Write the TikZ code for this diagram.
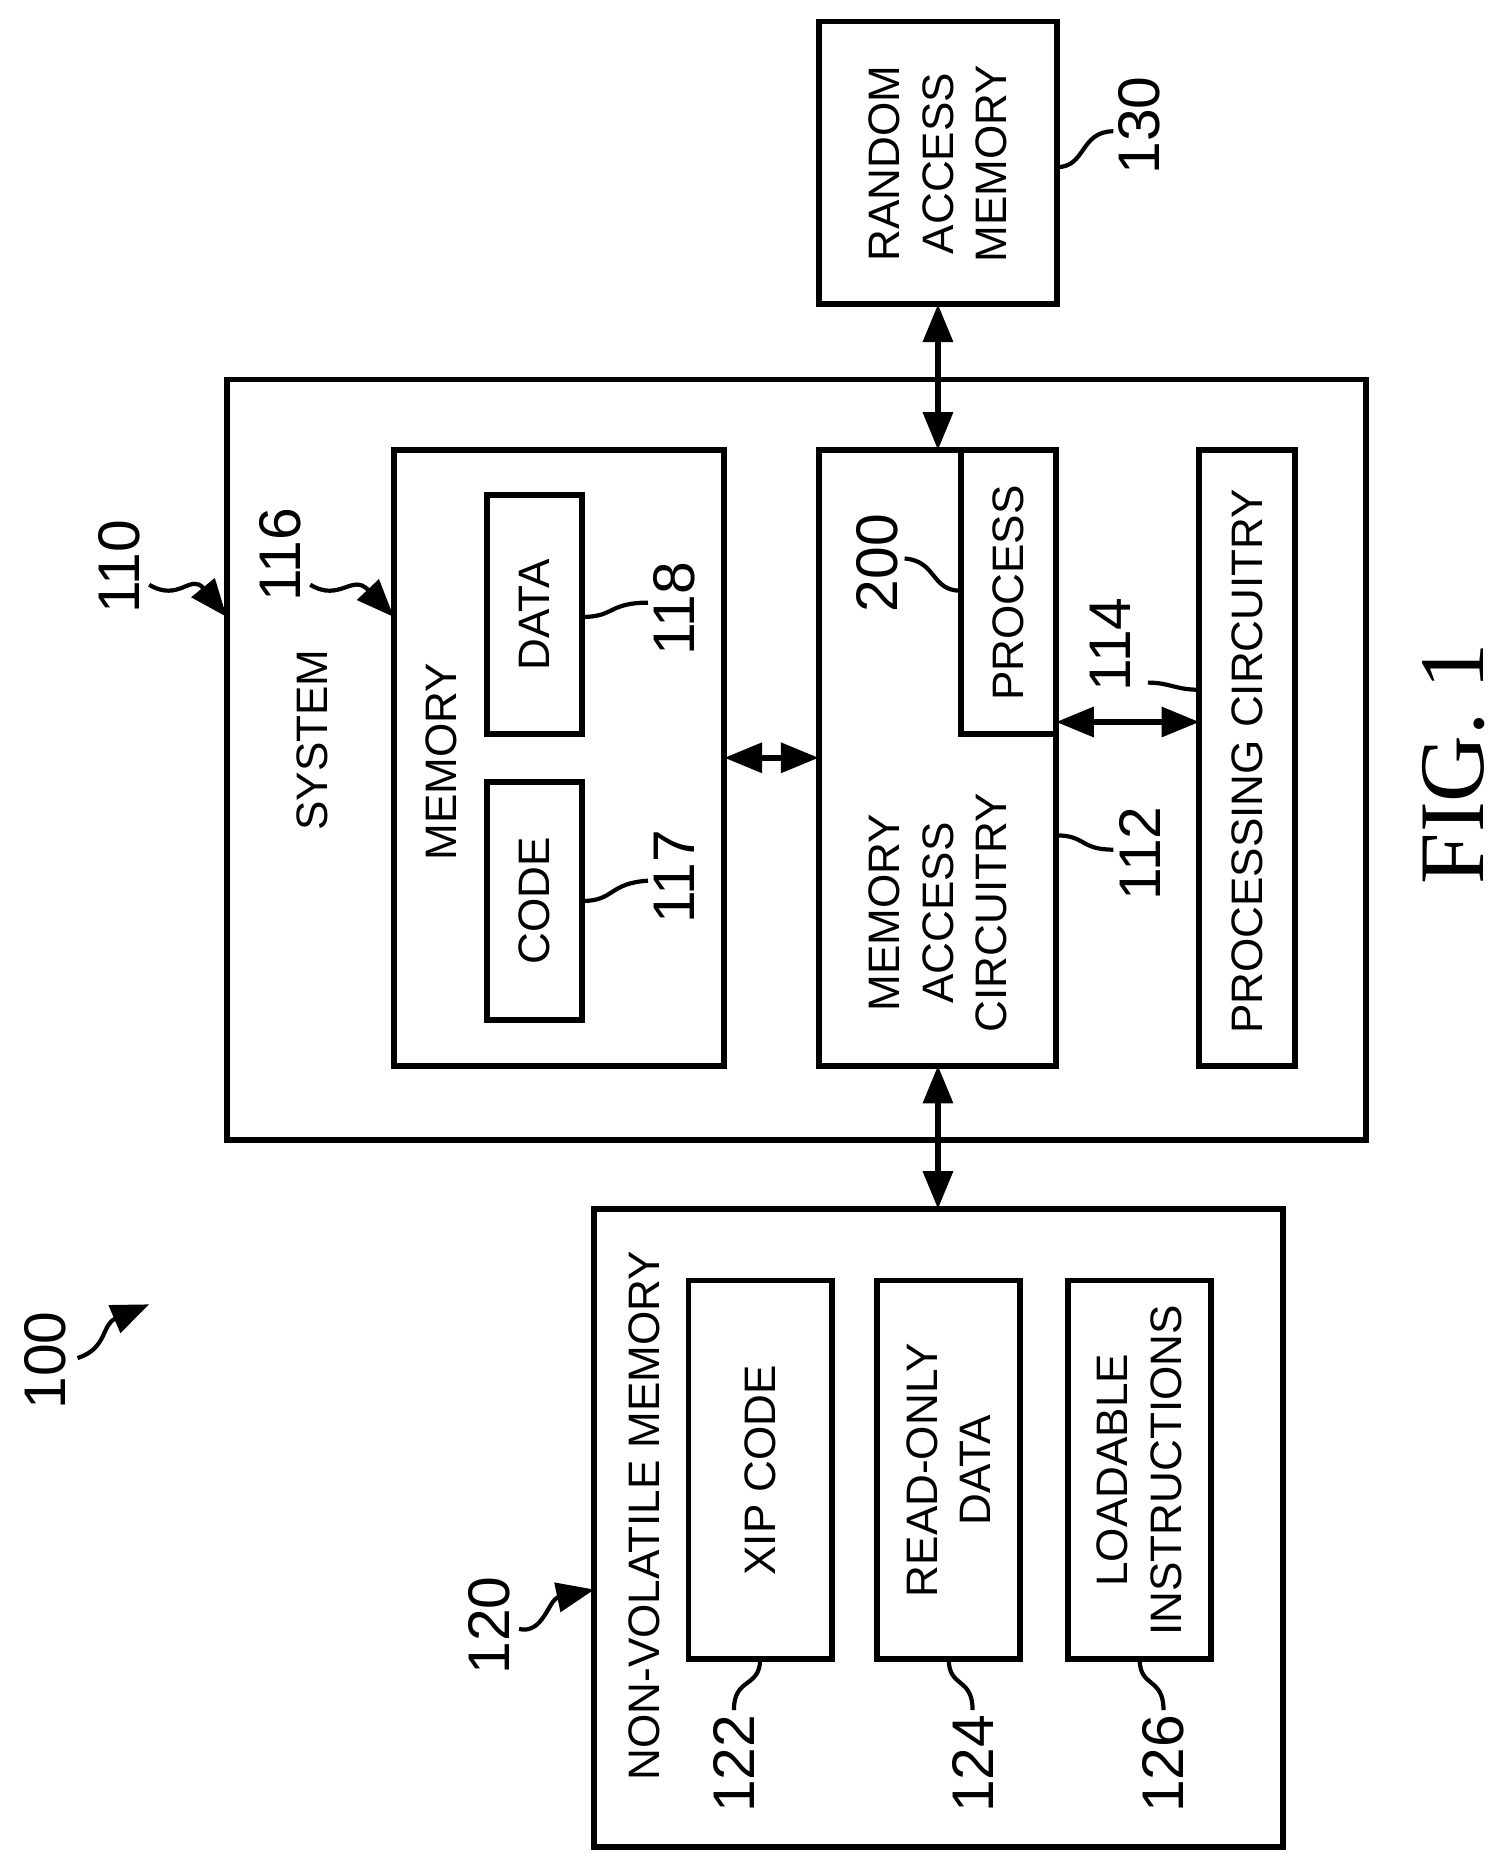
\documentclass[tikz,border=0pt]{standalone}
\usepackage{fontspec}
\setmainfont{Liberation Sans}
\newfontfamily\figfont{Liberation Serif}
\usetikzlibrary{arrows.meta}
\begin{document}
\begin{tikzpicture}[x=0.01cm,y=-0.01cm,
    blk/.style={draw,line width=1.4pt},
    txt/.style={rotate=90,align=center,inner sep=0pt,font=\fontsize{10.5}{12.8}\selectfont},
    num/.style={rotate=90,inner sep=0pt,font=\fontsize{14}{16}\selectfont},
    bus/.style={line width=1.3pt,{Triangle[length=9pt,width=7pt]}-{Triangle[length=9pt,width=7pt]}},
    lead/.style={line width=1pt},
    ptr/.style={line width=1pt,-{Triangle[length=9pt,width=7pt]}}]
    \useasboundingbox (0,0) rectangle (1255,1562);

    % Bausteine
    \draw[blk] (686,18) rectangle (886,255);
    \node[txt] (ram) at (786,137) {RANDOM\\ACCESS\\MEMORY};
    \draw[blk] (190,318) rectangle (1145,955);
    \node[txt] (sys) at (262,620) {SYSTEM};
    \draw[blk] (330,377) rectangle (607,893);
    \node[txt] (mem) at (370,638) {MEMORY};
    \draw[blk] (408,655) rectangle (488,855);
    \node[txt] (code) at (448,755) {CODE};
    \draw[blk] (408,415) rectangle (488,615);
    \node[txt] (data) at (448,515) {DATA};
    \draw[blk] (686,377) rectangle (885,893);
    \node[txt] (mac) at (786,765) {MEMORY\\ACCESS\\CIRCUITRY};
    \draw[blk] (805,377) rectangle (885,615);
    \node[txt] (proc) at (845,497) {PROCESS};
    \draw[blk] (1005,377) rectangle (1085,893);
    \node[txt] (pc) at (1045,638) {PROCESSING CIRCUITRY};
    \draw[blk] (498,1013) rectangle (1075,1548);
    \node[txt] (nvm) at (540,1270) {NON-VOLATILE MEMORY};
    \draw[blk] (577,1073) rectangle (697,1390);
    \node[txt] (xip) at (637,1232) {XIP CODE};
    \draw[blk] (735,1073) rectangle (855,1390);
    \node[txt] (rod) at (795,1232) {READ-ONLY\\DATA};
    \draw[blk] (895,1073) rectangle (1015,1390);
    \node[txt] (ldi) at (955,1232) {LOADABLE\\INSTRUCTIONS};

    % Busse
    \coordinate (ramS) at (786,255);  \coordinate (macN) at (786,377);
    \coordinate (macS) at (786,893);  \coordinate (nvmN) at (786,1013);
    \coordinate (memE) at (607,635);  \coordinate (macW) at (686,635);
    \coordinate (macE) at (885,605);  \coordinate (pcW) at (1005,605);
    \draw[bus] (ramS) -- (macN);
    \draw[bus] (macS) -- (nvmN);
    \draw[bus] (memE) -- (macW);
    \draw[bus] (macE) -- (pcW);

    % Bezugszeichen
    \node[num] (n100) at (38,1140) {100};
    \node[num] (n110) at (100,475) {110};
    \node[num] (n116) at (235,465) {116};
    \node[num] (n117) at (565,735) {117};
    \node[num] (n118) at (565,510) {118};
    \node[num] (n200) at (735,472) {200};
    \node[num] (n114) at (930,540) {114};
    \node[num] (n112) at (955,715) {112};
    \node[num] (n130) at (955,105) {130};
    \node[num] (n120) at (410,1362) {120};
    \node[num] (n122) at (615,1478) {122};
    \node[num] (n124) at (815,1478) {124};
    \node[num] (n126) at (975,1478) {126};

    \draw[ptr] (65,1138) .. controls (90,1130) and (85,1110) .. (125,1093);
    \draw[ptr] (125,490) .. controls (150,505) and (160,480) .. (190,517);
    \draw[ptr] (260,490) .. controls (285,505) and (295,480) .. (330,517);
    \draw[ptr] (435,1365) .. controls (455,1370) and (460,1340) .. (498,1332);
    \draw[lead] (543,738) .. controls (510,740) and (515,755) .. (488,755);
    \draw[lead] (543,505) .. controls (510,505) and (515,517) .. (488,517);
    \draw[lead] (758,468) .. controls (785,470) and (780,495) .. (805,495);
    \draw[lead] (962,572) .. controls (980,572) and (985,578) .. (1005,578);
    \draw[lead] (933,712) .. controls (905,712) and (910,700) .. (885,700);
    \draw[lead] (933,110) .. controls (905,110) and (910,140) .. (886,140);
    \draw[lead] (615,1433) .. controls (615,1405) and (637,1415) .. (637,1390);
    \draw[lead] (815,1433) .. controls (815,1405) and (795,1415) .. (795,1390);
    \draw[lead] (975,1433) .. controls (975,1405) and (955,1415) .. (955,1390);

    \node[rotate=90,font=\figfont\fontsize{22}{24}\selectfont] (fig) at (1218,640) {FIG. 1};
\end{tikzpicture}
\end{document}
